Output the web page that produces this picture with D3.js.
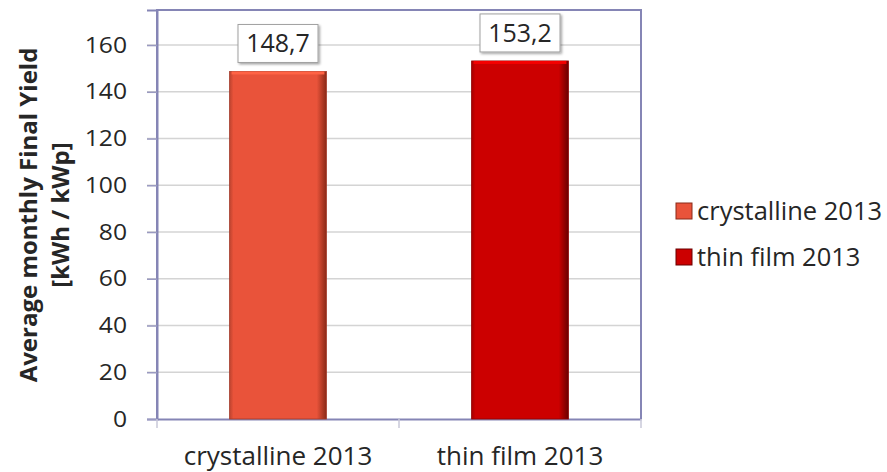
<!DOCTYPE html>
<html>
<head>
<meta charset="utf-8">
<script src="https://cdn.jsdelivr.net/npm/d3@7"></script>
<style>
  html, body { margin: 0; padding: 0; background: #fff; }
  svg { display: block; }
  text { font-family: "Open Sans", Lato, sans-serif; fill: #262626; }
</style>
</head>
<body>
<svg id="chart" width="887" height="472"></svg>
<script>
// Chart data
const categories = ["crystalline 2013", "thin film 2013"];
const values = [148.7, 153.2];
const valueLabels = ["148,7", "153,2"];
const yTicks = [0, 20, 40, 60, 80, 100, 120, 140, 160];
const yTitle = ["Average monthly Final Yield", "[kWh / kWp]"];
const colors = ["#E9533A", "#CC0000"];
const edgeColors = ["#8a2a18", "#6a0000"];

const svg = d3.select("#chart");
const plot = { left: 157, top: 10, right: 641, bottom: 419 };
const FONT = "'Open Sans', Lato, sans-serif";

// widen glyphs slightly, keeping their height
function stretch(sel, k) {
  sel.each(function () {
    const len = this.getComputedTextLength();
    d3.select(this).attr("textLength", len * k).attr("lengthAdjust", "spacingAndGlyphs");
  });
}

const x = d3.scaleBand().domain(categories)
  .range([plot.left, plot.right]).paddingInner(0.6).paddingOuter(0.3);
const y = d3.scaleLinear().domain([0, 175]).range([plot.bottom, plot.top]);

// gradients giving the bars a bevelled edge
const defs = svg.append("defs");
categories.forEach((c, i) => {
  const g = defs.append("linearGradient").attr("id", "bar" + i)
    .attr("x1", 0).attr("x2", 1).attr("y1", 0).attr("y2", 0);
  g.append("stop").attr("offset", "0%").attr("stop-color", d3.color(colors[i]).darker(0.6));
  g.append("stop").attr("offset", "4%").attr("stop-color", colors[i]);
  g.append("stop").attr("offset", "90%").attr("stop-color", colors[i]);
  g.append("stop").attr("offset", "100%").attr("stop-color", edgeColors[i]);
});
const sh = defs.append("filter").attr("id", "shadow")
  .attr("x", "-20%").attr("y", "-20%").attr("width", "150%").attr("height", "150%");
sh.append("feDropShadow").attr("dx", 1.5).attr("dy", 1.5).attr("stdDeviation", 1.2)
  .attr("flood-color", "#000").attr("flood-opacity", 0.35);

// gridlines
svg.append("g").selectAll("line").data(yTicks.filter(t => t > 0)).join("line")
  .attr("x1", plot.left - 10).attr("x2", plot.right)
  .attr("y1", d => y(d)).attr("y2", d => y(d))
  .attr("stroke", "#d4d4d4").attr("stroke-width", 1.5);

// plot frame
svg.append("path")
  .attr("d", `M${plot.left},${plot.bottom}V${plot.top}H${plot.right}V${plot.bottom}`)
  .attr("fill", "none").attr("stroke", "#8585b5").attr("stroke-width", 2);

// y axis
const yAxis = svg.append("g").attr("transform", `translate(${plot.left},0)`)
  .call(d3.axisLeft(y).tickValues(yTicks).tickSize(10).tickPadding(20));
yAxis.select(".domain").attr("stroke", "#8585b5").attr("stroke-width", 2);
yAxis.selectAll(".tick line").attr("stroke", "#9a9ac0").attr("stroke-width", 1.5);
yAxis.selectAll(".tick text").style("font-size", "22px").attr("fill", "#262626")
  .style("font-family", FONT).call(stretch, 1.12);

// x axis
const xAxis = svg.append("g").attr("transform", `translate(0,${plot.bottom})`)
  .call(d3.axisBottom(x).tickSize(0).tickPadding(28));
xAxis.select(".domain").attr("stroke", "#8585b5").attr("stroke-width", 2);
xAxis.selectAll(".tick text").style("font-size", "25px").attr("fill", "#262626")
  .style("font-family", FONT).call(stretch, 1.04);
// category separator ticks
const sepX = [plot.left, (plot.left + plot.right) / 2, plot.right];
xAxis.append("g").selectAll("line").data(sepX).join("line")
  .attr("x1", d => d).attr("x2", d => d).attr("y1", 0).attr("y2", 9)
  .attr("stroke", "#c8c8d8").attr("stroke-width", 1.5);

// bars
svg.append("g").selectAll("rect").data(categories).join("rect")
  .attr("x", d => x(d)).attr("width", x.bandwidth())
  .attr("y", (d, i) => y(values[i])).attr("height", (d, i) => y(0) - y(values[i]))
  .attr("fill", (d, i) => `url(#bar${i})`)
  .attr("stroke", (d, i) => d3.color(colors[i]).darker(1)).attr("stroke-width", 0.8);
// light top edge
svg.append("g").selectAll("rect").data(categories).join("rect")
  .attr("x", d => x(d) + 2).attr("width", x.bandwidth() - 4)
  .attr("y", (d, i) => y(values[i])).attr("height", 3)
  .attr("fill", (d, i) => d3.color(colors[i]).brighter(0.5));

// value labels
const lbl = svg.append("g").selectAll("g").data(categories).join("g")
  .attr("transform", (d, i) => `translate(${x(d) + x.bandwidth() / 2},${y(values[i]) - 28})`);
lbl.append("rect").attr("x", -40).attr("y", -19).attr("width", 80).attr("height", 38)
  .attr("fill", "#fff").attr("stroke", "#a0a0a0").attr("stroke-width", 1)
  .attr("filter", "url(#shadow)");
lbl.append("text").attr("text-anchor", "middle").attr("dy", "0.36em")
  .style("font-size", "25px").text((d, i) => valueLabels[i]);

// y axis title, one text per line
svg.append("g").attr("transform", "translate(0,215)")
  .selectAll("text").data(yTitle).join("text")
  .attr("transform", (d, i) => `translate(${37 + i * 32},0) rotate(-90)`)
  .attr("text-anchor", "middle").style("font-size", "24px").style("font-weight", "bold")
  .text(d => d);

// legend
const leg = svg.append("g").selectAll("g").data(categories).join("g")
  .attr("transform", (d, i) => `translate(676,${211 + i * 46})`);
leg.append("rect").attr("x", 0).attr("y", -8).attr("width", 16).attr("height", 16)
  .attr("fill", (d, i) => colors[i]).attr("stroke", (d, i) => edgeColors[i]).attr("stroke-width", 1);
leg.append("text").attr("x", 21).attr("dy", "0.36em").style("font-size", "25px").text(d => d)
  .call(stretch, 1.02);
</script>
</body>
</html>
